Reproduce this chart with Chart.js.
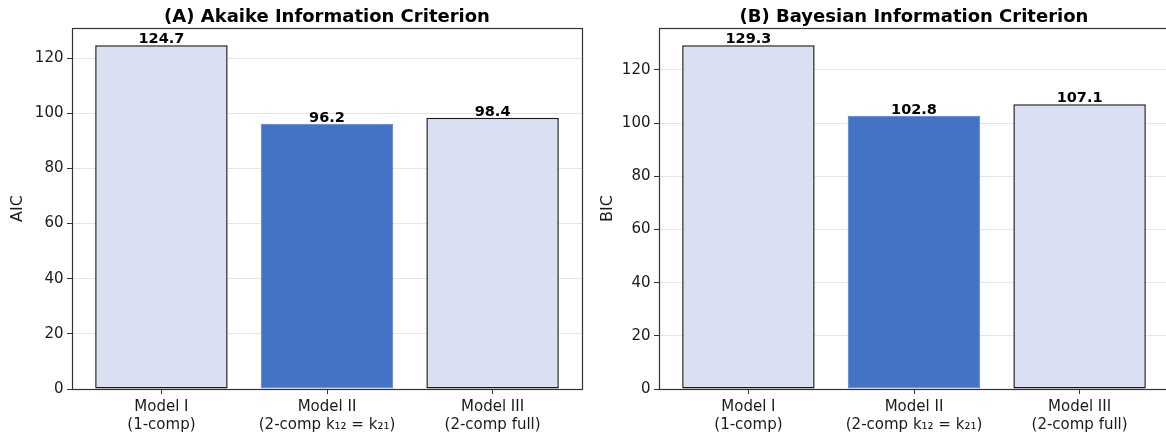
<!DOCTYPE html>
<html><head><meta charset="utf-8">
<script src="https://cdn.jsdelivr.net/npm/chart.js@4"></script>
<style>
html,body{margin:0;padding:0;background:#fff;overflow:hidden;width:1166px;height:436px;}
canvas{position:absolute;top:0;}
</style></head>
<body>
<canvas id="c1" width="600" height="436" style="left:0px"></canvas>
<canvas id="c2" width="590" height="436" style="left:590px"></canvas>
<script>
const categories = [
  ["Model I", "(1-comp)"],
  ["Model II", "(2-comp k\u2081\u2082 = k\u2082\u2081)"],
  ["Model III", "(2-comp full)"]
];
const aicValues = [124.7, 96.2, 98.4];
const bicValues = [129.3, 102.8, 107.1];
const yTicks = [0, 20, 40, 60, 80, 100, 120];
const barColors = ["#DAE0F2", "#4472C4", "#DAE0F2"];
const barEdges = ["#1a1a1a", "#4f80cf", "#1a1a1a"];

const FONT = "'DejaVu Sans', sans-serif";

const decor = {
  id: 'decor',
  afterDatasetsDraw(chart, args, opts) {
    const ctx = chart.ctx;
    const meta = chart.getDatasetMeta(0);
    const vals = chart.data.datasets[0].data;
    ctx.save();
    ctx.fillStyle = '#000';
    ctx.font = "bold 14.5px " + FONT;
    ctx.textAlign = 'center';
    ctx.textBaseline = 'alphabetic';
    meta.data.forEach((bar, i) => {
      ctx.fillText(vals[i].y.toFixed(1), bar.x, bar.y - 2);
    });
    ctx.restore();
  },
  afterDraw(chart, args, opts) {
    const ctx = chart.ctx;
    const a = chart.chartArea;
    ctx.save();
    ctx.strokeStyle = '#333';
    ctx.lineWidth = 1.2;
    ctx.strokeRect(Math.round(a.left) + 0.5, Math.round(a.top) + 0.5,
                   Math.round(a.right - a.left), Math.round(a.bottom - a.top));
    ctx.fillStyle = '#000';
    ctx.font = "bold 18px " + FONT;
    ctx.textAlign = 'center';
    ctx.textBaseline = 'alphabetic';
    ctx.fillText(opts.text, (a.left + a.right) / 2, 22);
    ctx.restore();
  }
};

function makeChart(id, values, yLabel, title, yAxisWidth, padRight) {
  const ymax = Math.max(...values) * 1.05;
  return new Chart(document.getElementById(id), {
    type: 'bar',
    data: {
      datasets: [{
        data: values.map((v, i) => ({x: i, y: v})),
        backgroundColor: barColors,
        borderColor: barEdges,
        borderWidth: [1.5, 1, 1.5],
        borderSkipped: false,
        barPercentage: 0.8,
        categoryPercentage: 1.0
      }]
    },
    options: {
      responsive: false,
      animation: false,
      devicePixelRatio: 1,
      layout: {padding: {top: 28, right: padRight, bottom: 0, left: 0}},
      plugins: {
        legend: {display: false},
        tooltip: {enabled: false},
        title: {display: false},
        decor: {text: title}
      },
      scales: {
        x: {
          type: 'linear',
          offset: false,
          min: -0.54,
          max: 2.54,
          afterBuildTicks(scale) { scale.ticks = categories.map((c, i) => ({value: i})); },
          afterFit(scale) { scale.height = 47; },
          ticks: {
            autoSkip: false,
            maxRotation: 0,
            color: '#1a1a1a',
            padding: 4,
            font: {family: FONT, size: 15, lineHeight: 1.22},
            callback: (v) => categories[v]
          },
          grid: {offset: false, drawOnChartArea: false, drawTicks: true, tickLength: 5, tickColor: '#333', color: '#333'},
          border: {display: false}
        },
        y: {
          min: 0,
          max: ymax,
          afterBuildTicks(scale) { scale.ticks = yTicks.map(v => ({value: v})); },
          afterFit(scale) { scale.width = yAxisWidth; },
          title: {display: true, text: yLabel, color: '#1a1a1a',
                  font: {family: FONT, size: 16, lineHeight: 1.2}, padding: {top: 8.4, bottom: 0}},
          ticks: {color: '#1a1a1a', padding: 3.5, font: {family: FONT, size: 15}},
          grid: {color: 'rgba(0,0,0,0.1)', lineWidth: 1, tickLength: 5, tickColor: '#333'},
          border: {display: false}
        }
      }
    },
    plugins: [decor]
  });
}

makeChart('c1', aicValues, 'AIC', '(A) Akaike Information Criterion', 72, 18);
makeChart('c2', bicValues, 'BIC', '(B) Bayesian Information Criterion', 69, 11);
</script>
</body></html>
